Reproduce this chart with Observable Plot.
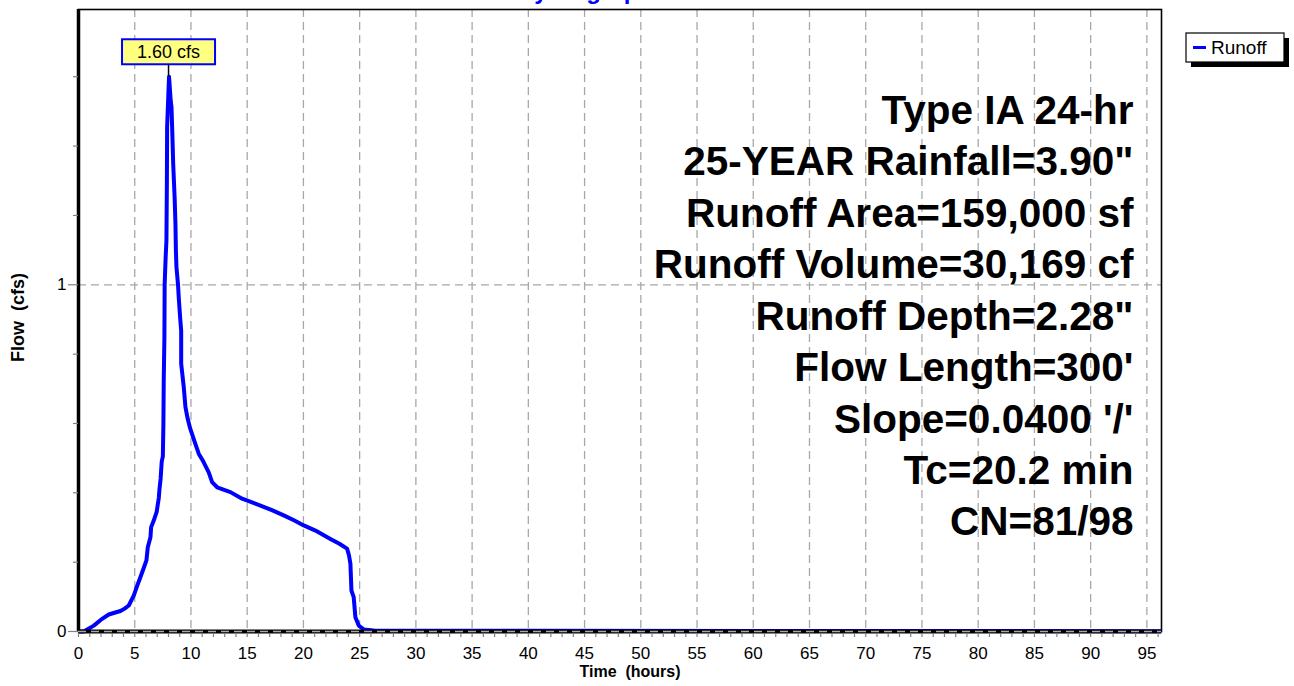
<!DOCTYPE html>
<html>
<head>
<meta charset="utf-8">
<script src="https://cdn.jsdelivr.net/npm/d3@7"></script>
<script src="https://cdn.jsdelivr.net/npm/@observablehq/plot@0.6"></script>
<style>
  html, body { margin: 0; padding: 0; background: #ffffff; }
  #chart { position: relative; width: 1294px; height: 686px; overflow: hidden; }
</style>
</head>
<body>
<div id="chart"></div>
<script>
// ---------- data ----------
const chartTitle = "Hydrograph";
const seriesNames = ["Runoff"];
const seriesColors = ["#0000ff"];
const xAxisTitle = "Time  (hours)";
const yAxisTitle = "Flow  (cfs)";
const flowUnit = "cfs";

const time = [0, 0.5, 0.62, 1.36, 2.0, 2.69, 3.2, 3.73, 4.1, 4.47, 4.92, 5.2, 5.51, 5.8, 6.04, 6.16, 6.4, 6.46, 6.69, 6.95,
  7.14, 7.2, 7.3, 7.4, 7.5, 7.55, 7.58, 7.64, 7.66, 7.75, 7.82, 7.86, 7.88, 8.05,
  8.2, 8.27, 8.35, 8.42, 8.55, 8.62, 8.66, 8.71, 8.85, 8.92, 9.05, 9.13, 9.13, 9.36, 9.51, 9.7, 9.9,
  10.3, 10.69, 11.1, 11.58, 11.88, 12.33, 13.51, 14.55, 15.14, 16.18, 17.2, 18.25, 19.2, 20.03, 21.07,
  22.4, 23.2, 23.88, 24.05, 24.18, 24.27, 24.47, 24.62, 24.92, 25.36, 26.25, 40, 96.3];
const flow = [0, 0, 0.003, 0.017, 0.034, 0.049, 0.054, 0.059, 0.066, 0.075, 0.104, 0.13, 0.157, 0.183, 0.205, 0.243, 0.272, 0.301, 0.32, 0.345,
  0.385, 0.41, 0.44, 0.49, 0.505, 0.6, 0.724, 0.85, 1.0, 1.08, 1.128, 1.3, 1.455, 1.60,
  1.53, 1.512, 1.43, 1.349, 1.25, 1.176, 1.1, 1.051, 1.0, 0.96, 0.9, 0.868, 0.772, 0.705, 0.647, 0.615, 0.589,
  0.55, 0.513, 0.49, 0.459, 0.431, 0.416, 0.402, 0.383, 0.376, 0.363, 0.35, 0.335, 0.32, 0.306, 0.291,
  0.267, 0.253, 0.239, 0.22, 0.195, 0.118, 0.099, 0.041, 0.017, 0.006, 0.003, 0.002, 0.001];

const xTickValues = [0, 5, 10, 15, 20, 25, 30, 35, 40, 45, 50, 55, 60, 65, 70, 75, 80, 85, 90, 95];
const xMinorTickValues = [0, 1, 2, 3, 4, 5, 6, 7, 8, 9, 10, 11, 12, 13, 14, 15, 16, 17, 18, 19, 20, 21, 22, 23, 24, 25,
  26, 27, 28, 29, 30, 31, 32, 33, 34, 35, 36, 37, 38, 39, 40, 41, 42, 43, 44, 45, 46, 47, 48, 49, 50,
  51, 52, 53, 54, 55, 56, 57, 58, 59, 60, 61, 62, 63, 64, 65, 66, 67, 68, 69, 70, 71, 72, 73, 74, 75,
  76, 77, 78, 79, 80, 81, 82, 83, 84, 85, 86, 87, 88, 89, 90, 91, 92, 93, 94, 95, 96];
const yTickValues = [0, 1];
const yMinorTickValues = [0.2, 0.4, 0.6, 0.8, 1.2, 1.4, 1.6];

const infoLines = [
  "Type IA 24-hr",
  "25-YEAR Rainfall=3.90\"",
  "Runoff Area=159,000 sf",
  "Runoff Volume=30,169 cf",
  "Runoff Depth=2.28\"",
  "Flow Length=300'",
  "Slope=0.0400 '/'",
  "Tc=20.2 min",
  "CN=81/98"
];

// ---------- build ----------
const data = time.map((t, i) => ({time: t, flow: flow[i]}));
const peak = data.reduce((a, b) => (b.flow > a.flow ? b : a));
const FONT = "'Liberation Sans', Arial, Helvetica, sans-serif";
const GRID = "#a8a8a8";
const TICK = "#808080";

function findScales(args) {
  return args.find(a => a && typeof a.x === "function" && typeof a.y === "function");
}

function peakLabelMark(...args) {
  const sc = findScales(args);
  const px = sc.x(peak.time), py = sc.y(peak.flow);
  const bw = 93, bh = 25, gap = 12;
  const g = d3.create("svg:g");
  g.append("line")
    .attr("x1", px).attr("x2", px)
    .attr("y1", py - gap).attr("y2", py)
    .attr("stroke", "#000").attr("stroke-width", 1.5);
  g.append("rect")
    .attr("x", px - bw / 2).attr("y", py - gap - bh)
    .attr("width", bw).attr("height", bh)
    .attr("fill", "#ffff80").attr("stroke", "#0000ff").attr("stroke-width", 2);
  g.append("text")
    .attr("x", px).attr("y", py - gap - bh / 2)
    .attr("dy", "0.36em")
    .attr("text-anchor", "middle")
    .attr("font-family", FONT).attr("font-size", 18).attr("fill", "#000")
    .text(peak.flow.toFixed(2) + " " + flowUnit);
  return g.node();
}

function legendMark(...args) {
  const g = d3.create("svg:g");
  const x0 = 1186, y0 = 33, w = 98, h = 29;
  g.append("rect").attr("x", x0 + 5).attr("y", y0 + 5).attr("width", w).attr("height", h).attr("fill", "#000");
  g.append("rect").attr("x", x0).attr("y", y0).attr("width", w).attr("height", h)
    .attr("fill", "#fff").attr("stroke", "#000").attr("stroke-width", 1.2);
  seriesNames.forEach((name, i) => {
    const cy = y0 + h / 2 + i * 20;
    g.append("line").attr("x1", x0 + 7).attr("x2", x0 + 20).attr("y1", cy).attr("y2", cy)
      .attr("stroke", seriesColors[i]).attr("stroke-width", 3);
    g.append("text").attr("x", x0 + 25).attr("y", cy).attr("dy", "0.36em")
      .attr("text-anchor", "start")
      .attr("font-family", FONT).attr("font-size", 19).attr("fill", "#000").text(name);
  });
  return g.node();
}

const chart = Plot.plot({
  width: 1294,
  height: 686,
  marginLeft: 78,
  marginRight: 133,
  marginTop: 9,
  marginBottom: 55,
  style: {fontFamily: FONT, fontSize: "17px", color: "#000", background: "#fff"},
  x: {domain: [0, 96.3], ticks: xTickValues, tickSize: 0, tickPadding: 15, tickFormat: d => String(d), label: null},
  y: {domain: [0, 1.794], ticks: yTickValues, tickSize: 0, tickPadding: 12, tickFormat: d => String(d), label: null},
  marks: [
    // grid
    Plot.ruleX(xTickValues.filter(d => d > 0), {stroke: GRID, strokeWidth: 1.3, strokeDasharray: "8,5"}),
    Plot.ruleY(yTickValues.filter(d => d > 0), {stroke: GRID, strokeWidth: 1.3, strokeDasharray: "8,5"}),
    // frame
    Plot.frame({stroke: "#000", strokeWidth: 1.6}),
    // series
    Plot.line(data, {x: "time", y: "flow", stroke: seriesColors[0], strokeWidth: 4, strokeLinejoin: "round", strokeLinecap: "butt"}),
    // heavy axes
    Plot.ruleX([0], {stroke: "#000", strokeWidth: 3.5}),
    Plot.ruleY([0], {stroke: "#000", strokeWidth: 4}),
    Plot.ruleY([0], {stroke: GRID, strokeWidth: 1.3, strokeDasharray: "8,5"}),
    // ticks
    Plot.ruleX(xMinorTickValues, {x: d => d, y1: 0, y2: 0, insetTop: 2, insetBottom: -6, stroke: TICK, strokeWidth: 1.2}),
    Plot.ruleY(yMinorTickValues, {y: d => d, x1: 0, x2: 0, insetLeft: -5, insetRight: 0, stroke: TICK, strokeWidth: 1.2}),
    Plot.ruleY(yTickValues, {y: d => d, x1: 0, x2: 0, insetLeft: -10, insetRight: 0, stroke: TICK, strokeWidth: 1.2}),
    // annotation block
    Plot.text([infoLines.join("\n")], {
      frameAnchor: "top-right", textAnchor: "end", lineAnchor: "top",
      lineHeight: 1.27, fontSize: 40.5, fontWeight: "bold", fill: "#000",
      dx: -28, dy: 78
    }),
    // axis titles
    Plot.text([xAxisTitle], {frameAnchor: "bottom", textAnchor: "middle", dx: 10, dy: 45, fontSize: 16, fontWeight: "bold", fill: "#000"}),
    Plot.text([yAxisTitle], {frameAnchor: "left", textAnchor: "middle", rotate: -90, dx: -60, dy: -3, fontSize: 18, fontWeight: "bold", fill: "#000"}),
    // chart title (clipped at the top edge as in the reference)
    Plot.text([chartTitle], {frameAnchor: "top", textAnchor: "middle", lineAnchor: "bottom", dx: -35, dy: -11, fontSize: 24, fontWeight: "bold", fill: "#0000ff"}),
    peakLabelMark,
    legendMark
  ]
});

document.getElementById("chart").appendChild(chart);
</script>
</body>
</html>
